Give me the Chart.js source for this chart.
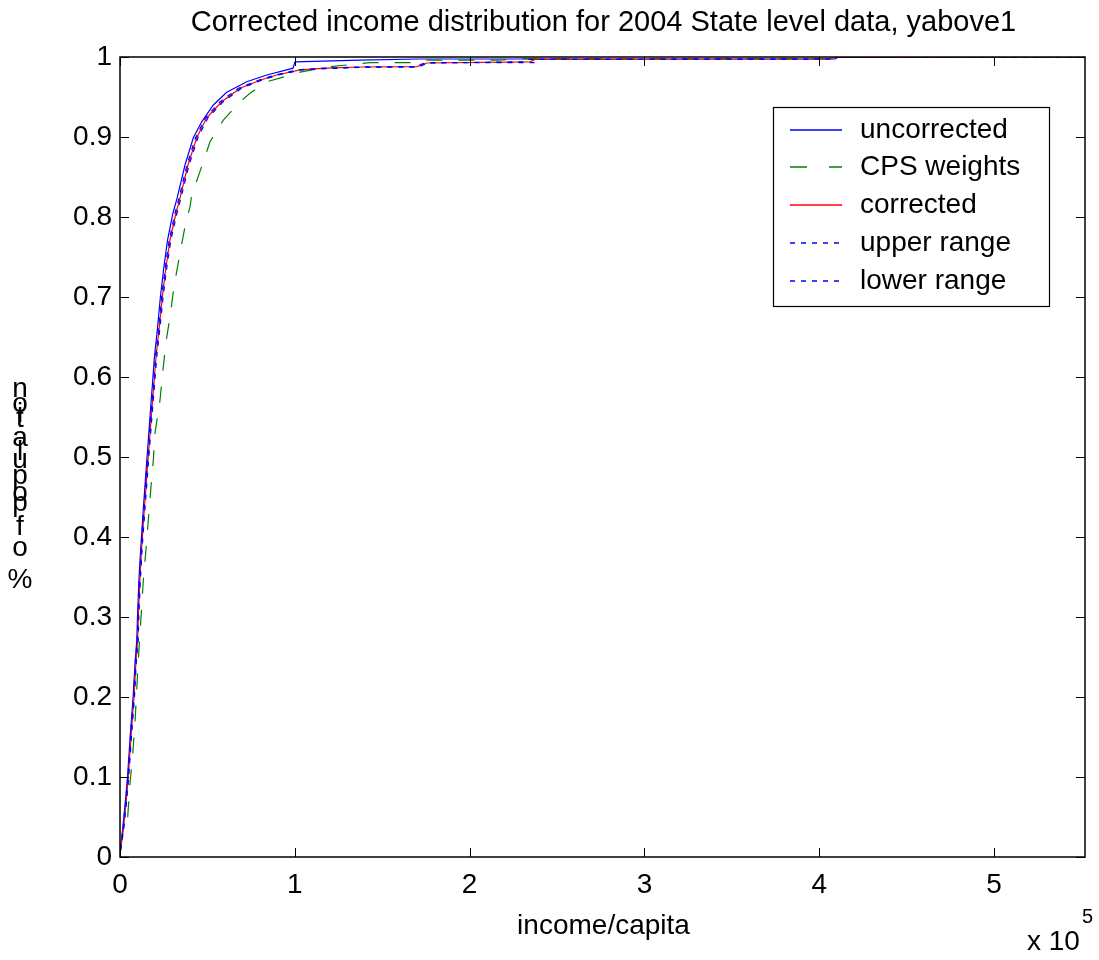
<!DOCTYPE html>
<html><head><meta charset="utf-8">
<script src="https://cdn.jsdelivr.net/npm/chart.js@4.4.1/dist/chart.umd.min.js"></script>
<style>html,body{margin:0;padding:0;background:#fff;}canvas{display:block;}</style>
</head><body>
<canvas id="c" width="1099" height="960"></canvas>
<script>
const titleText = 'Corrected income distribution for 2004 State level data, yabove1';
const xAxisTitle = 'income/capita';
const yAxisTitle = '% of population';
const xScaleNote = ['x 10', '5'];
const xTickValues = [0, 100000, 200000, 300000, 400000, 500000];
const xTickLabels = ['0', '1', '2', '3', '4', '5'];
const yTickValues = [0, 0.1, 0.2, 0.3, 0.4, 0.5, 0.6, 0.7, 0.8, 0.9, 1];
const yTickLabels = ['0', '0.1', '0.2', '0.3', '0.4', '0.5', '0.6', '0.7', '0.8', '0.9', '1'];
const seriesNames = ['uncorrected', 'CPS weights', 'corrected', 'upper range', 'lower range'];

const uncorrectedIncome = [200,1500,3000,4300,5800,7500,8700,9600,10000,10900,11900,13300,14800,15900,17000,18600,19700,21500,23100,25100,27200,30300,32700,37190,41930,46740,53380,61040,72480,83930,95370,98970,100100,137300,171600,409000,411000,552000];
const uncorrectedShare  = [0.012,0.034,0.068,0.10,0.15,0.20,0.246,0.271,0.30,0.35,0.3875,0.434,0.48,0.5125,0.546,0.5925,0.625,0.6625,0.70,0.7375,0.771,0.805,0.824,0.865,0.899,0.919,0.94,0.956,0.969,0.9775,0.984,0.986,0.994,0.996,0.9975,0.9975,1.0,1.0];

const cpsIncome = [300,1700,4400,5720,7040,8580,10470,12410,13330,14700,16190,17740,19050,20020,22880,24770,26320,28600,30890,33920,37190,40050,41020,45770,51490,59100,68650,74370,83930,102980,118250,129700,143000,167600,175600,215700,230000,409000,411000,552000];
const cpsShare   = [0.011,0.034,0.05,0.0925,0.121,0.1675,0.246,0.313,0.346,0.38,0.421,0.463,0.496,0.53,0.571,0.6125,0.644,0.675,0.713,0.75,0.788,0.813,0.8275,0.857,0.894,0.921,0.944,0.9546,0.969,0.981,0.9875,0.99,0.993,0.993,0.996,0.996,0.998,0.998,1.0,1.0];

const correctedIncome = [300,1890,3430,4750,6290,8010,9150,10130,10470,11440,12410,13900,15450,16590,17740,19450,20600,22480,24200,26320,28600,32040,34330,38900,43880,49600,58180,68650,80090,89650,102980,118250,137300,169900,175600,234600,237400,406200,409000,552000];
const correctedShare  = [0.009,0.034,0.0675,0.10,0.15,0.20,0.246,0.271,0.30,0.35,0.3875,0.434,0.48,0.5125,0.546,0.5925,0.625,0.6625,0.70,0.7375,0.771,0.805,0.824,0.865,0.899,0.924,0.944,0.961,0.971,0.9775,0.984,0.986,0.9875,0.988,0.9925,0.994,0.997,0.9975,0.9995,1.0];

const upperIncome = [200,1700,3200,4550,6000,7750,8900,9900,10250,11200,12150,13600,15150,16300,17450,19100,20250,22100,23800,25900,28150,31500,33800,38300,43200,48900,57300,67800,79200,88800,101900,117000,136000,168500,174500,232000,234000,405000,408000,552000];
const upperShare  = [0.010,0.034,0.0675,0.10,0.15,0.20,0.246,0.271,0.30,0.35,0.3875,0.434,0.48,0.5125,0.546,0.5925,0.625,0.6625,0.70,0.7375,0.771,0.805,0.824,0.865,0.899,0.924,0.944,0.961,0.971,0.9775,0.984,0.986,0.9875,0.988,0.9925,0.994,0.997,0.9975,1.0,1.0];

const lowerIncome = [400,2100,3700,5000,6550,8300,9400,10400,10750,11750,12700,14250,15800,16950,18100,19850,21000,22900,24650,26800,29100,32600,34900,39500,44500,50300,59000,69500,81000,90500,104000,119500,138500,171000,176500,237000,239000,407000,410000,552000];
const lowerShare  = [0.008,0.034,0.0675,0.10,0.15,0.20,0.246,0.271,0.30,0.35,0.3875,0.434,0.48,0.5125,0.546,0.5925,0.625,0.6625,0.70,0.7375,0.771,0.805,0.824,0.865,0.899,0.924,0.944,0.961,0.971,0.9775,0.984,0.9855,0.987,0.9875,0.993,0.993,0.997,0.9975,1.0,1.0];

function pts(xs, ys) { return xs.map((x, i) => ({ x: x, y: ys[i] })); }

const FONT = '"Liberation Sans", Arial, sans-serif';
const BLUE = '#0000ff', GREEN = '#008000', RED = '#ff0000';

const styles = [
  { color: BLUE, dash: [] },
  { color: GREEN, dash: [16, 16] },
  { color: RED, dash: [] },
  { color: BLUE, dash: [5, 6] },
  { color: BLUE, dash: [5, 6] }
];
const legendDash = [[], [17, 22], [], [5, 6], [5, 6]];
const seriesData = [
  pts(uncorrectedIncome, uncorrectedShare),
  pts(cpsIncome, cpsShare),
  pts(correctedIncome, correctedShare),
  pts(upperIncome, upperShare),
  pts(lowerIncome, lowerShare)
];

const datasets = seriesNames.map((name, i) => ({
  label: name,
  data: seriesData[i],
  showLine: true,
  borderColor: styles[i].color,
  backgroundColor: styles[i].color,
  borderDash: styles[i].dash,
  borderWidth: 1.2,
  pointRadius: 0,
  fill: false,
  tension: 0,
  order: 5 - i
}));

// y-axis title drawn as upright stacked characters (reversed), as in the reference
const yTitleCharY = [389, 404, 414, 419, 438, 452, 460, 476, 493, 503, null, 527, 548, null, 580];

const decor = {
  id: 'decor',
  beforeDraw(chart) {
    const ctx = chart.ctx;
    ctx.save();
    ctx.fillStyle = '#fff';
    ctx.fillRect(0, 0, chart.width, chart.height);
    ctx.restore();
  },
  afterDatasetsDraw(chart) {
    const ctx = chart.ctx, a = chart.chartArea;
    const xs = chart.scales.x, ys = chart.scales.y;
    ctx.save();
    ctx.strokeStyle = '#000';
    ctx.lineWidth = 1;
    ctx.setLineDash([]);
    const T = 9;
    ctx.beginPath();
    xTickValues.forEach(v => {
      const px = Math.round(xs.getPixelForValue(v)) + 0.5;
      ctx.moveTo(px, a.bottom); ctx.lineTo(px, a.bottom - T);
      ctx.moveTo(px, a.top); ctx.lineTo(px, a.top + T);
    });
    yTickValues.forEach(v => {
      const py = Math.round(ys.getPixelForValue(v)) + 0.5;
      ctx.moveTo(a.left, py); ctx.lineTo(a.left + T, py);
      ctx.moveTo(a.right, py); ctx.lineTo(a.right - T, py);
    });
    ctx.stroke();
    ctx.lineWidth = 1.5;
    ctx.strokeRect(a.left, a.top, a.right - a.left, a.bottom - a.top);
    ctx.restore();
  },
  afterDraw(chart) {
    const ctx = chart.ctx, a = chart.chartArea;
    ctx.save();
    ctx.fillStyle = '#000';
    // title
    ctx.font = '29px ' + FONT;
    ctx.textAlign = 'center';
    ctx.textBaseline = 'middle';
    ctx.fillText(titleText, (a.left + a.right) / 2 + 1, 23);
    // x title
    ctx.font = '28px ' + FONT;
    ctx.fillText(xAxisTitle, (a.left + a.right) / 2 + 1, 926);
    // y title
    const chars = yAxisTitle.split('').reverse();
    chars.forEach((ch, i) => {
      if (yTitleCharY[i] == null || ch === ' ') return;
      ctx.fillText(ch, 20, yTitleCharY[i]);
    });
    // x 10^5
    ctx.textAlign = 'left';
    ctx.textBaseline = 'alphabetic';
    ctx.font = '28px ' + FONT;
    ctx.fillText(xScaleNote[0], 1027, 950);
    ctx.font = '20px ' + FONT;
    ctx.fillText(xScaleNote[1], 1082, 923);
    // legend
    const L = { x: 773, y: 107, w: 276, h: 199 };
    ctx.fillStyle = '#fff';
    ctx.fillRect(L.x, L.y, L.w, L.h);
    ctx.strokeStyle = '#000';
    ctx.lineWidth = 1.2;
    ctx.strokeRect(L.x + 0.5, L.y + 0.5, L.w, L.h);
    const rowY = [130, 167, 205, 243, 281];
    seriesNames.forEach((name, i) => {
      const y = rowY[i];
      ctx.strokeStyle = styles[i].color;
      ctx.lineWidth = 1.3;
      ctx.setLineDash(legendDash[i]);
      ctx.beginPath();
      ctx.moveTo(790, y); ctx.lineTo(842, y);
      ctx.stroke();
      ctx.setLineDash([]);
      ctx.fillStyle = '#000';
      ctx.font = '28px ' + FONT;
      ctx.textBaseline = 'middle';
      ctx.fillText(name, 860, rowY[i]);
    });
    ctx.restore();
  }
};

new Chart(document.getElementById('c'), {
  type: 'scatter',
  data: { datasets: datasets },
  options: {
    responsive: false,
    animation: false,
    layout: { padding: { top: 57, right: 14, left: 0, bottom: 0 } },
    plugins: { legend: { display: false }, title: { display: false }, tooltip: { enabled: false } },
    scales: {
      x: {
        type: 'linear', min: 0, max: 552000,
        afterBuildTicks: s => { s.ticks = xTickValues.map(v => ({ value: v })); },
        afterFit: s => { s.height = 103; },
        grid: { display: false, drawTicks: false },
        border: { display: false },
        ticks: {
          color: '#000', font: { size: 28, family: FONT }, padding: 11, maxRotation: 0,
          callback: (v, i) => xTickLabels[i]
        }
      },
      y: {
        type: 'linear', min: 0, max: 1,
        afterBuildTicks: s => { s.ticks = yTickValues.map(v => ({ value: v })); },
        afterFit: s => { s.width = 120; },
        grid: { display: false, drawTicks: false },
        border: { display: false },
        ticks: {
          color: '#000', font: { size: 28, family: FONT }, padding: 8,
          callback: (v, i) => yTickLabels[i]
        }
      }
    }
  },
  plugins: [decor]
});
</script>
</body></html>
